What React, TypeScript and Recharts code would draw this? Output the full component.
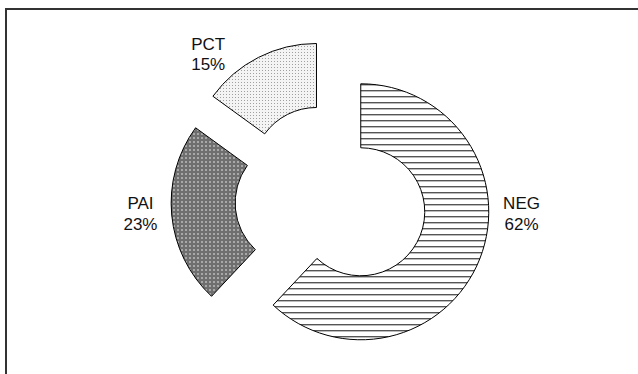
import { Pie, PieChart, Sector } from 'recharts';

const CATEGORIES = ['NEG', 'PAI', 'PCT'];
const SHARES = [62, 23, 15];
// label direction (degrees) around the pie centre
const LABEL_ANGLES = [-4, 184, 130];

const PATTERNS = ['url(#neg-lines)', 'url(#pai-dots)', 'url(#pct-dots)'];

const data = CATEGORIES.map((name, i) => ({ name, value: SHARES[i], fill: PATTERNS[i] }));

const RADIAN = Math.PI / 180;
const EXPLODE = 32;

function ExplodedSector(props: any) {
  const { cx, cy, midAngle } = props;
  const dx = EXPLODE * Math.cos(-midAngle * RADIAN);
  const dy = EXPLODE * Math.sin(-midAngle * RADIAN);
  return <Sector {...props} cx={cx + dx} cy={cy + dy} />;
}

function SliceLabel(props: any) {
  const { cx, cy, index, name, percent } = props;
  const r = 191;
  const a = LABEL_ANGLES[index];
  const x = cx + r * Math.cos(-a * RADIAN);
  const y = cy + r * Math.sin(-a * RADIAN);
  return (
    <text
      x={x}
      y={y}
      textAnchor="middle"
      fill="#111"
      fontSize={17}
      fontFamily="'Liberation Sans', Arial, sans-serif"
    >
      <tspan x={x} y={y - 4}>{name}</tspan>
      <tspan x={x} y={y + 16.7}>{`${Math.round(percent * 100)}%`}</tspan>
    </text>
  );
}

export default function App() {
  return (
    <div style={{ position: 'absolute', left: 0, top: 0, width: 638, height: 374, background: '#fff' }}>
      <div
        style={{
          position: 'absolute',
          left: 5,
          top: 8,
          right: 0,
          bottom: 0,
          borderTop: '2px solid #333',
          borderLeft: '2px solid #333',
        }}
      />
      <PieChart
        width={638}
        height={374}
        margin={{ top: 0, right: 0, bottom: 0, left: 0 }}
        style={{ position: 'absolute', left: 0, top: 0 }}
      >
        <defs>
          <pattern id="neg-lines" patternUnits="userSpaceOnUse" width={6} height={6}>
            <rect width={6} height={6} fill="#fff" />
            <rect y={0} width={6} height={1} fill="#555" />
            <rect y={1} width={6} height={1} fill="#bbb" />
          </pattern>
          <pattern id="pai-dots" patternUnits="userSpaceOnUse" width={4} height={4}>
            <rect width={4} height={4} fill="#6f6f6f" />
            <rect x={1} y={1} width={2} height={2} fill="#a8a8a8" />
          </pattern>
          <pattern id="pct-dots" patternUnits="userSpaceOnUse" width={3} height={3}>
            <rect width={3} height={3} fill="#f4f4f4" />
            <rect x={1} y={1} width={1} height={1} fill="#a0a0a0" />
          </pattern>
        </defs>
        <Pie
          data={data}
          dataKey="value"
          nameKey="name"
          cx={331}
          cy={200}
          innerRadius={64}
          outerRadius={128}
          startAngle={90}
          endAngle={-270}
          stroke="#000"
          strokeWidth={1}
          shape={ExplodedSector}
          label={SliceLabel}
          labelLine={false}
          isAnimationActive={false}
        />
      </PieChart>
    </div>
  );
}
